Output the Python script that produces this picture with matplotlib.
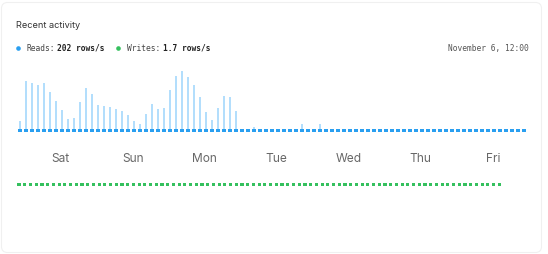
import matplotlib
matplotlib.use("Agg")
import matplotlib.pyplot as plt
from matplotlib.patches import FancyBboxPatch
from matplotlib.transforms import blended_transform_factory

# Chart data (reads in arbitrary units, 2-hour buckets)
days = ["Sat", "Sun", "Mon", "Tue", "Wed", "Thu", "Fri"]
reads = [
    11, 51, 49, 47, 49, 40, 31, 22, 13, 14, 30, 44,
    38, 27, 26, 25, 23, 21, 17, 11, 8, 18, 28, 23,
    24, 42, 56, 61, 55, 47, 35, 20, 12, 24, 36, 35,
    21, 0, 0, 5, 0, 0, 0, 0, 0, 0, 0, 8,
    0, 0, 8, 0, 0, 0, 0, 0, 0, 0, 0, 0,
    0, 0, 0, 0, 0, 0, 0, 0, 0, 0, 0, 0,
    0, 0, 0, 0, 0, 0, 0, 0, 0, 0, 0, 0,
    0,
]
writes = [
    0, 0, 0, 0, 0, 0, 0, 0, 0, 0, 0, 0,
    0, 0, 0, 0, 0, 0, 0, 0, 0, 0, 0, 0,
    0, 0, 0, 0, 0, 0, 0, 0, 0, 0, 0, 0,
    0, 0, 0, 0, 0, 0, 0, 0, 0, 0, 0, 0,
    0, 0, 0, 0, 0, 0, 0, 0, 0, 0, 0, 0,
    0, 0, 0, 0, 0, 0, 0, 0, 0, 0, 0, 0,
    0, 0, 0, 0, 0, 0, 0, 0, 0, 0, 0, 0,
    0,
]
reads_rate = "202 rows/s"
writes_rate = "1.7 rows/s"
timestamp = "November 6, 12:00"

# Styling
W, H = 548, 254
BLUE = "#2a9ff0"
LIGHT_BLUE = "#b3defc"
GREEN = "#35c05e"
SANS = ["Inter", "DejaVu Sans"]
MONO = ["DejaVu Sans Mono"]
DOT_H = 3  # floor marker height in px


def fx(x):
    return x / W


def fy(y):
    return 1 - y / H


fig = plt.figure(figsize=(W / 100, H / 100), dpi=100)
fig.patch.set_facecolor("white")

# Overlay in pixel coordinates for card, title and legend
over = fig.add_axes([0, 0, 1, 1])
over.set_xlim(0, W)
over.set_ylim(H, 0)
over.axis("off")
over.add_patch(FancyBboxPatch((1.5, 2.5), 540, 250, boxstyle="round,pad=0,rounding_size=6",
                              facecolor="white", edgecolor="#f0f0f0", linewidth=0.8))

over.text(15.7, 28, "Recent activity", family=SANS, fontsize=6.6, color="#333333", va="baseline")
over.scatter([18.3], [48], s=11, color=BLUE, linewidths=0)
over.text(26.7, 50.7, "Reads:", family=MONO, fontsize=5.7, color="#444444", va="baseline")
over.text(57.3, 50.7, reads_rate, family=MONO, fontsize=5.7, color="#222222",
          fontweight="bold", va="baseline")
over.scatter([118.3], [48], s=11, color=GREEN, linewidths=0)
over.text(127, 50.7, "Writes:", family=MONO, fontsize=5.7, color="#444444", va="baseline")
over.text(163.3, 50.7, writes_rate, family=MONO, fontsize=5.7, color="#222222",
          fontweight="bold", va="baseline")
over.text(529, 50.7, timestamp, family=MONO, fontsize=5.7, color="#555555",
          ha="right", va="baseline")

# Reads bars
idx = list(range(len(reads)))
ax = fig.add_axes([fx(17), fy(131.7), 510 / W, 65 / H])
ax.set_xlim(-0.5, len(reads) - 0.5)
ax.set_ylim(0, 65)
ax.bar(idx, reads, width=0.45, color=LIGHT_BLUE, linewidth=0)
ax.bar(idx, DOT_H, width=0.55, color=BLUE, linewidth=0)
ax.axis("off")

# Day labels under the reads chart
day_pos = [6.8 + 12 * k for k in range(len(days))]
tr = blended_transform_factory(ax.transData, over.transData)
for pos, d in zip(day_pos, days):
    over.text(pos, 161.5, d, transform=tr, family=SANS, fontsize=8.6, color="#686868",
              ha="center", va="baseline")

# Writes dots
idx_w = list(range(len(writes)))
ax2 = fig.add_axes([fx(16.2), fy(185.5), 486 / W, 10 / H])
ax2.set_xlim(-0.5, len(writes) - 0.5)
ax2.set_ylim(0, 10)
ax2.bar(idx_w, writes, width=0.45, color="#b7ecc8", linewidth=0)
ax2.bar(idx_w, DOT_H, width=0.55, color=GREEN, linewidth=0)
ax2.axis("off")

fig.savefig("out.png", dpi=100)
